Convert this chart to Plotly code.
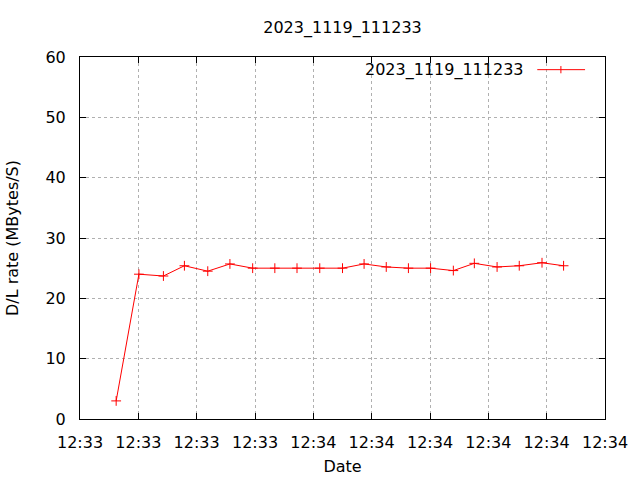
import plotly.graph_objects as go

# Data
times = [
    "2023-11-19 12:33:26.2", "2023-11-19 12:33:30.1", "2023-11-19 12:33:34.3",
    "2023-11-19 12:33:37.9", "2023-11-19 12:33:41.9", "2023-11-19 12:33:45.7",
    "2023-11-19 12:33:49.6", "2023-11-19 12:33:53.4", "2023-11-19 12:33:57.2",
    "2023-11-19 12:34:01.1", "2023-11-19 12:34:05.0", "2023-11-19 12:34:08.7",
    "2023-11-19 12:34:12.5", "2023-11-19 12:34:16.3", "2023-11-19 12:34:20.1",
    "2023-11-19 12:34:24.0", "2023-11-19 12:34:27.6", "2023-11-19 12:34:31.5",
    "2023-11-19 12:34:35.3", "2023-11-19 12:34:39.2", "2023-11-19 12:34:42.9",
]
rates = [3.0, 24.0, 23.7, 25.4, 24.5, 25.7, 25.0, 25.0, 25.0, 25.0, 25.0,
         25.7, 25.2, 25.0, 25.0, 24.6, 25.8, 25.2, 25.4, 25.9, 25.4]
series_name = "2023_1119_111233"
chart_title = "2023_1119_111233"
x_range = ["2023-11-19 12:33:20", "2023-11-19 12:34:50"]
y_range = [0, 60]

FONT = "DejaVu Sans"
RED = "#ff0000"

fig = go.Figure()
fig.add_trace(go.Scatter(
    x=times, y=rates, mode="lines+markers", name=series_name,
    line=dict(color=RED, width=1),
    marker=dict(symbol="cross-thin-open", size=7, color=RED,
                line=dict(color=RED, width=1)),
    showlegend=False,
))

axis_common = dict(
    showline=True, linecolor="black", linewidth=1, mirror="ticks",
    ticks="inside", ticklen=6, tickcolor="black", tickwidth=1,
    showgrid=True, gridcolor="#b0b0b0", gridwidth=1, griddash="dot",
    zeroline=False, tickfont=dict(family=FONT, size=16, color="black"),
)

fig.update_xaxes(
    type="date", range=x_range, tick0=x_range[0], dtick=10000,
    tickformat="%H:%M", ticklabelstandoff=9,
    title=dict(text="Date", font=dict(family=FONT, size=16, color="black"), standoff=9),
    **axis_common,
)
fig.update_yaxes(
    range=y_range, dtick=10, ticklabelstandoff=10,
    title=dict(text="D/L rate (MBytes/S)", font=dict(family=FONT, size=16, color="black"), standoff=22),
    **axis_common,
)

# gnuplot-style legend: text on the left, line sample on the right
fig.add_annotation(
    x=0.85, y=0.965, xref="paper", yref="paper", xanchor="right", yanchor="middle",
    text=series_name, showarrow=False, font=dict(family=FONT, size=16, color="black"),
)
fig.add_shape(type="line", xref="paper", yref="paper",
              x0=0.871, x1=0.962, y0=0.965, y1=0.965, line=dict(color=RED, width=1))
fig.add_shape(type="line", xref="paper", yref="paper",
              x0=0.916, x1=0.916, y0=0.955, y1=0.975, line=dict(color=RED, width=1))

fig.update_layout(
    width=640, height=480,
    margin=dict(l=80, r=35, t=57, b=61, autoexpand=False),
    paper_bgcolor="white", plot_bgcolor="white",
    title=dict(text=chart_title, x=0.5, xref="paper", y=1 - 27 / 480, yanchor="middle",
               font=dict(family=FONT, size=16, color="black")),
    font=dict(family=FONT, size=16, color="black"),
)

fig.write_html("out.html", config={"displayModeBar": False},
               post_script="document.body.style.margin='0';")
